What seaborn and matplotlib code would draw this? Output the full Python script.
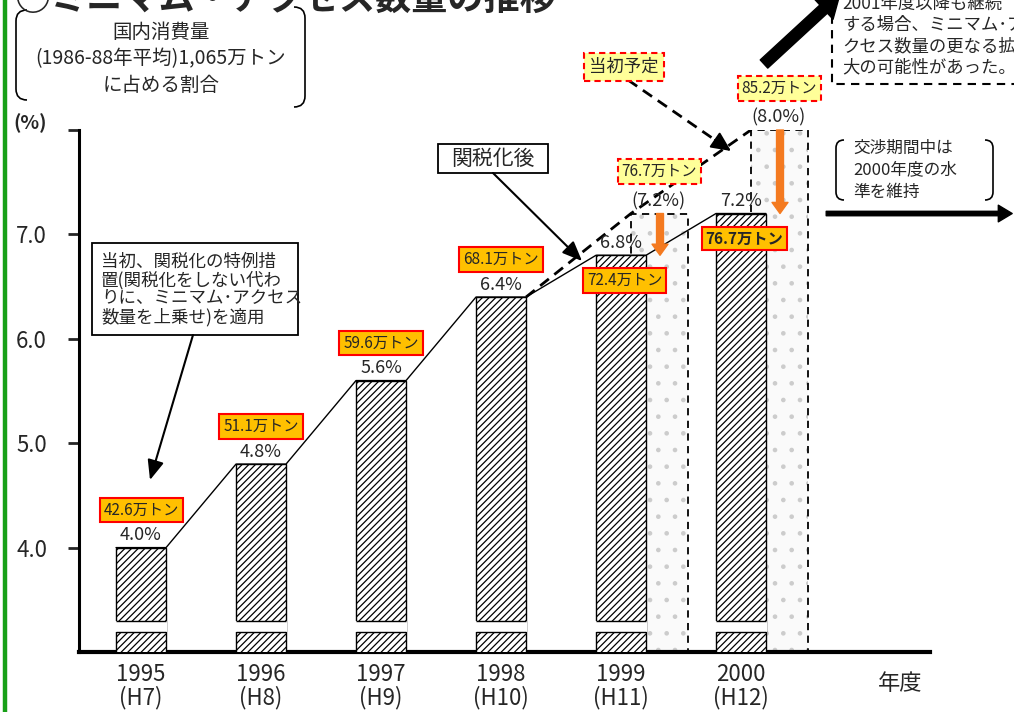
import matplotlib
matplotlib.use("Agg")
import numpy as np
import pandas as pd
import matplotlib.pyplot as plt
import seaborn as sns
from matplotlib.path import Path
from matplotlib.patches import PathPatch, Rectangle

# === Data ===
years = ["1995", "1996", "1997", "1998", "1999", "2000"]
heisei = ["H7", "H8", "H9", "H10", "H11", "H12"]
share = [4.0, 4.8, 5.6, 6.4, 6.8, 7.2]
tonnage = ["42.6", "51.1", "59.6", "68.1", "72.4", "76.7"]
plan_years = ["1999", "2000"]
plan_share = [7.2, 8.0]
plan_tonnage = ["76.7", "85.2"]

# === Style ===
sns.set_theme(style="white")
plt.rcParams["font.family"] = ["Noto Sans CJK JP", "DejaVu Sans"]
plt.rcParams["hatch.linewidth"] = 0.9

W, H = 1014, 712
fig = plt.figure(figsize=(W / 100, H / 100), dpi=100)
ax = fig.add_axes([79 / W, 60 / H, (930 - 79) / W, (652 - 130) / H])

bar_w = 0.417
plan_w = 0.475
xpos = np.arange(len(years))
plan_x = [years.index(y) + 0.32 for y in plan_years]

df = pd.DataFrame({"x": xpos, "share": share})
df_plan = pd.DataFrame({"x": plan_x, "share": plan_share})

# === Planned bars (dotted, dashed outline) ===
sns.barplot(data=df_plan, x="x", y="share", native_scale=True, width=plan_w,
            color="#fafafa", orient="x", ax=ax)
for p in ax.patches:
    p.set_facecolor("#fafafa")
    p.set_edgecolor("black")
    p.set_linestyle((0, (4, 3)))
    p.set_linewidth(1.3)
    p.set_hatch(".")
    p._hatch_color = (0.8, 0.8, 0.8, 1.0)
    p.set_zorder(1)
n_plan = len(ax.patches)

# === Actual bars (hatched) ===
sns.barplot(data=df, x="x", y="share", native_scale=True, width=bar_w,
            color="white", orient="x", ax=ax)
bars = ax.patches[n_plan:]
for p in bars:
    p.set_facecolor("white")
    p.set_edgecolor("black")
    p.set_linewidth(1.0)
    p.set_hatch("/////")
    p.set_zorder(3)
    # axis break gap
    x0, w = p.get_x(), p.get_width()
    ax.add_patch(Rectangle((x0 - 0.01, 3.19), w + 0.02, 0.11, fc="white", ec="none", zorder=4))
    ax.hlines([3.19, 3.30], x0, x0 + w, color="black", lw=1.0, zorder=5)

# connecting line over bar tops
lx, ly = [], []
for i, v in enumerate(share):
    lx += [i - bar_w / 2, i + bar_w / 2]
    ly += [v, v]
ax.plot(lx, ly, color="black", lw=1.0, zorder=6)

# planned (dashed) line
px = [3 + bar_w / 2] + [x - plan_w / 2 for x in plan_x]
py = [share[3]] + plan_share
ax.plot(px, py, color="black", lw=2.0, ls=(0, (4, 2.5)), zorder=6)

# value labels
box_or = dict(boxstyle="square,pad=0.25", fc="#FFC000", ec="#FF0000", lw=1.5)
box_ye = dict(boxstyle="square,pad=0.25", fc="#FFFF99", ec="#FF0000", lw=1.5, ls=(0, (3, 2)))
for i, (v, t) in enumerate(zip(share, tonnage)):
    ax.text(i, v + 0.12, f"{v:.1f}%", ha="center", va="center", fontsize=13, zorder=8)
    if i < 4:
        ax.text(i, v + 0.36, f"{t}万トン", ha="center", va="center", fontsize=11,
                bbox=box_or, zorder=8)
    else:
        ax.text(i + 0.03, v - 0.24, f"{t}万トン", ha="center", va="center", fontsize=11,
                fontweight="bold" if i == 5 else "normal", bbox=box_or, zorder=8)

for x, v, t, a in zip(plan_x, plan_share, plan_tonnage, share[4:]):
    ax.text(x - 0.01, v + 0.12, f"({v:.1f}%)", ha="center", va="center", fontsize=13, zorder=8)
    ax.text(x, v + 0.40, f"{t}万トン", ha="center", va="center", fontsize=11,
            bbox=box_ye, zorder=8)
    ax.annotate("", xy=(x + 0.005, a), xytext=(x + 0.005, v), zorder=9,
                arrowprops=dict(arrowstyle="simple,head_width=1.15,head_length=0.8,tail_width=0.5",
                                fc="#F47A20", ec="#F47A20", mutation_scale=10,
                                shrinkA=0, shrinkB=0))

# level maintained arrow
ax.annotate("", xy=(7.26, share[-1]), xytext=(5.71, share[-1]), annotation_clip=False,
            arrowprops=dict(arrowstyle="simple,head_width=1.2,head_length=1.0,tail_width=0.32",
                            fc="black", ec="black", mutation_scale=10, shrinkA=0, shrinkB=0))

# === Axes ===
ax.set_xlim(-0.517, 6.575)
ax.set_ylim(3, 8)
ax.set_xlabel("")
ax.set_ylabel("")
ax.set_yticks([4, 5, 6, 7, 8])
ax.set_yticklabels(["4.0", "5.0", "6.0", "7.0", ""])
ax.set_xticks(xpos)
ax.set_xticklabels([f"{y}\n({h})" for y, h in zip(years, heisei)], linespacing=1.0)
ax.tick_params(axis="y", left=True, direction="out", length=8, width=2, labelsize=16, pad=15)
ax.tick_params(axis="x", bottom=False, labelsize=16, pad=2)
for s in ["top", "right"]:
    ax.spines[s].set_visible(False)
ax.spines["left"].set_linewidth(2.2)
ax.spines["bottom"].set_linewidth(3)
ax.spines["left"].set_color("black")
ax.spines["bottom"].set_color("black")

# === Overlay in pixel coordinates ===
ov = fig.add_axes([0, 0, 1, 1], zorder=5)
ov.set_xlim(0, W)
ov.set_ylim(H, 0)
ov.axis("off")
ov.patch.set_alpha(0)


def bracket(x, y0, y1, d):
    verts = [(x + d, y0), (x, y0), (x, y0 + abs(d)), (x, y1 - abs(d)), (x, y1), (x + d, y1)]
    codes = [Path.MOVETO, Path.CURVE3, Path.CURVE3, Path.LINETO, Path.CURVE3, Path.CURVE3]
    ov.add_patch(PathPatch(Path(verts, codes), fill=False, lw=1.2, ec="black"))


ov.plot([5, 5], [0, H], color="#18A018", lw=3.2)
ov.text(14, 11, "○ミニマム・アクセス数量の推移", fontsize=26, fontweight="bold",
        ha="left", va="baseline")

bracket(16, 10, 100, 11)
bracket(305, 7, 107, -11)
for y, s in zip([32, 59, 85], ["国内消費量", "(1986-88年平均)1,065万トン", "に占める割合"]):
    ov.text(161, y, s, fontsize=14, ha="center", va="center")
ov.text(30, 123, "(%)", fontsize=14, fontweight="bold", ha="center", va="center")
ov.text(900, 683, "年度", fontsize=16, ha="center", va="center")

# top right note
ov.add_patch(Rectangle((832, -10), 200, 94, fc="white", ec="black", lw=1.5, ls=(0, (4, 3))))
for y, s in zip([4, 25, 46, 67], ["2001年度以降も継続", "する場合、ミニマム･ア",
                                   "クセス数量の更なる拡", "大の可能性があった。"]):
    ov.text(842, y, s, fontsize=12.5, ha="left", va="center")
ov.annotate("", xy=(840, -6), xytext=(764, 64), annotation_clip=False,
            arrowprops=dict(arrowstyle="simple,head_width=1.25,head_length=1.0,tail_width=0.5",
                            fc="black", ec="black", mutation_scale=16, shrinkA=0, shrinkB=0))

# 当初予定
ov.text(624, 67, "当初予定", fontsize=12.5, ha="center", va="center",
        bbox=dict(boxstyle="square,pad=0.3", fc="#FFFF99", ec="#FF0000", lw=1.5, ls=(0, (3, 2))))
ov.plot([628, 718], [80, 142], color="black", lw=2.0, ls=(0, (4, 2.5)))
ov.annotate("", xy=(731, 151), xytext=(715, 140),
            arrowprops=dict(arrowstyle="-|>,head_width=0.28,head_length=0.6", fc="black",
                            ec="black", lw=1.5, mutation_scale=20, shrinkA=0, shrinkB=0))

# 関税化後
ov.add_patch(Rectangle((438, 144), 110, 29, fc="white", ec="black", lw=1.3))
ov.text(493, 158.5, "関税化後", fontsize=15, ha="center", va="center")
ov.annotate("", xy=(582, 261), xytext=(493, 173),
            arrowprops=dict(arrowstyle="-|>,head_width=0.25,head_length=0.6", fc="black",
                            ec="black", lw=1.5, mutation_scale=20, shrinkA=0, shrinkB=0))

# 当初 特例措置
ov.add_patch(Rectangle((92, 243), 206, 92, fc="white", ec="black", lw=1.3))
for y, s in zip([262, 280, 298, 317], ["当初、関税化の特例措", "置(関税化をしない代わ",
                                       "りに、ミニマム･アクセス", "数量を上乗せ)を適用"]):
    ov.text(101, y, s, fontsize=12.6, ha="left", va="center")
ov.annotate("", xy=(150, 480), xytext=(193, 335),
            arrowprops=dict(arrowstyle="-|>,head_width=0.25,head_length=0.6", fc="black",
                            ec="black", lw=1.5, mutation_scale=20, shrinkA=0, shrinkB=0))

# 交渉期間中
bracket(836, 140, 200, 8)
bracket(993, 140, 200, -8)
for y, s in zip([148, 170, 192], ["交渉期間中は", "2000年度の水", "準を維持"]):
    ov.text(853, y, s, fontsize=12, ha="left", va="center")

fig.savefig("out.png", dpi=100)
